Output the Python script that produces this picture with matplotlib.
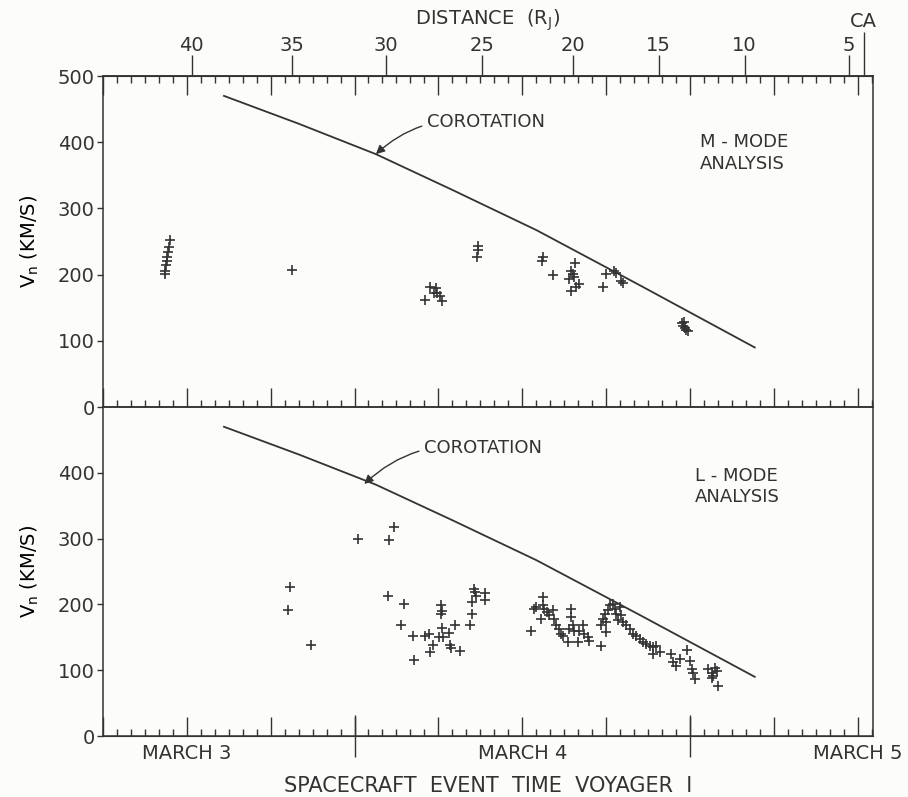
import numpy as np
import matplotlib.pyplot as plt
from matplotlib.ticker import MultipleLocator

# time axis: hours after 1979 March 3 00:00 (spacecraft event time)
corot_t = [14.66, 20.0, 25.53, 31.0, 37.04, 44.5, 52.64]
corot_v = [470, 428, 382, 328, 267, 183, 90]

# M-mode analysis
m_t = [10.79, 10.7, 10.65, 10.59, 10.55, 10.5, 10.41, 10.43, 19.52,
       29.4, 29.8, 29.67, 29.08, 30.15, 30.28, 29.92,
       32.86, 32.86, 32.79,
       37.46, 37.41, 38.17, 39.8, 39.5, 39.6, 39.37, 39.73, 40.1, 39.86, 39.5,
       42.0, 41.77, 42.6, 42.73, 43.09, 43.2,
       47.4, 47.63, 47.88, 47.52, 47.55, 47.75]
m_v = [252, 242, 234, 227, 221, 215, 205, 201, 207,
       181, 180, 173, 162, 168, 160, 173,
       244, 237, 226,
       226, 221, 199, 218, 206, 201, 193, 196, 186, 181, 176,
       201, 182, 206, 203, 191, 187,
       127, 120, 115, 122, 128, 117]

# L-mode analysis
l_t = [19.38, 19.26, 20.86, 24.24, 26.44, 26.85, 26.39, 27.57, 27.33, 28.19,
       28.29, 29.08, 29.32, 29.6, 29.41, 30.16, 30.23, 30.2, 30.27, 30.08,
       30.34, 30.75, 31.16, 30.8, 30.87, 31.54, 32.28, 32.43, 32.43, 32.62,
       32.71, 33.34, 33.34, 32.55,
       36.62, 36.86, 36.98, 37.51, 37.46, 37.58, 37.34, 37.81, 37.94, 38.17,
       38.3, 38.42, 38.66, 38.78, 38.89, 39.25, 39.5, 39.5, 39.61, 39.37,
       39.73, 39.97, 40.09, 40.33, 40.45, 40.69, 40.81, 41.65, 41.65, 41.77,
       41.89, 42.01, 42.13, 42.25, 42.48, 42.61, 42.73, 42.97, 43.09, 42.84,
       43.2, 43.45, 43.68, 43.92, 44.16, 44.4, 44.64, 44.88, 45.12, 45.36,
       45.6, 45.84, 45.36, 46.68, 46.79, 47.04, 47.28, 47.76, 47.99, 48.12,
       48.23, 48.35, 49.31, 49.55, 49.79, 49.91, 49.55, 50.03, 49.67, 42.01]
l_v = [226.6, 191.9, 138.9, 299.7, 298.2, 317, 212.4, 201, 168, 151.6,
       115.9, 151.6, 155, 138.3, 127, 199.5, 189.4, 185.8, 163.9, 151,
       151, 156.7, 168.9, 138.3, 133.7, 129.7, 168.9, 184.8, 203.7, 219,
       212.9, 217.9, 206.3, 223,
       160.3, 193.4, 196, 211.3, 198.6, 193.4, 178.1, 188.4, 183.3, 191,
       178.1, 168, 162.8, 155.1, 152.6, 142.4, 193.4, 180.7, 168, 162.8,
       160.3, 142.4, 160.3, 168, 155.1, 150.1, 145, 137.4, 168, 178.1,
       185.8, 157.7, 191, 198.6, 201.1, 193.4, 185.8, 196, 183.3, 175.7,
       173, 168, 162.8, 155.1, 152.7, 147.5, 142.4, 139.8, 137.4, 134.8,
       137.4, 127.1, 124.5, 124.5, 111.8, 106.7, 116.8, 131.2, 114.4, 101.5,
       96.5, 87.3, 101.5, 96.5, 104.1, 99.1, 88.8, 76.1, 91.4, 173]

dist_t = [12.36, 19.52, 26.24, 33.11, 39.62, 45.77, 51.92, 59.36]
dist_lab = ['40', '35', '30', '25', '20', '15', '10', '5']
ca_t = 60.43
day_t = [12, 36, 60]
day_lab = ['MARCH 3', 'MARCH 4', 'MARCH 5']

ink = '#333333'
plt.rcParams['font.family'] = ['DejaVu Sans']
plt.rcParams['text.color'] = ink
plt.rcParams['axes.edgecolor'] = ink
plt.rcParams['xtick.color'] = ink
plt.rcParams['ytick.color'] = ink

fig = plt.figure(figsize=(9.08, 7.97), dpi=100, facecolor='#fcfcfa')
ax1 = fig.add_axes([0.1134, 0.4893, 0.848, 0.4153])
ax2 = fig.add_axes([0.1134, 0.0765, 0.848, 0.4128])

for ax in (ax1, ax2):
    ax.set_facecolor('none')
    ax.set_xlim(6, 61.1)
    ax.set_ylim(0, 500)
    ax.xaxis.set_major_locator(MultipleLocator(6))
    ax.xaxis.set_minor_locator(MultipleLocator(1))
    ax.tick_params(axis='x', which='major', direction='in', length=14, width=1)
    ax.tick_params(axis='x', which='minor', direction='in', length=5, width=1)
    ax.tick_params(axis='x', labelbottom=False, labeltop=False)
    ax.tick_params(axis='y', direction='out', length=4, width=1, labelsize=14, pad=2)
    ax.plot(corot_t, corot_v, color=ink, lw=1.3)
    ax.set_ylabel('V$_\\mathregular{n}$ (KM/S)', fontsize=14, labelpad=12)
    for s in ax.spines.values():
        s.set_linewidth(1.1)

ax1.tick_params(axis='x', which='both', top=True, bottom=True)
ax2.tick_params(axis='x', which='both', top=False, bottom=True)
ax1.set_yticks([0, 100, 200, 300, 400, 500])
ax2.set_yticks([0, 100, 200, 300, 400])

ax1.plot(m_t, m_v, '+', color=ink, ms=7, mew=1.2)
ax2.plot(l_t, l_v, '+', color=ink, ms=7, mew=1.2)

# distance scale on top
sec = ax1.secondary_xaxis('top')
sec.set_xticks(dist_t, dist_lab)
sec.tick_params(direction='out', length=15, width=1, labelsize=14, pad=0.5)
sec.spines['top'].set_linewidth(1.1)
sec2 = ax1.secondary_xaxis('top')
sec2.set_xticks([ca_t], ['CA'])
sec2.tick_params(direction='out', length=32, width=1, labelsize=14, pad=0.5)
ax1.text(0.5, 1.17, 'DISTANCE  (R$_\\mathregular{J}$)', transform=ax1.transAxes,
         ha='center', va='center', fontsize=14)

# day boundaries and labels
sec3 = ax2.secondary_xaxis('bottom')
sec3.set_xticks([24, 48], ['', ''])
sec3.tick_params(direction='inout', length=30, width=1)
for t, lab in zip(day_t, day_lab):
    ax2.text(t, -0.025, lab, transform=ax2.get_xaxis_transform(),
             ha='center', va='top', fontsize=14)
ax2.text(0.5, -0.152, 'SPACECRAFT  EVENT  TIME  VOYAGER  I', transform=ax2.transAxes,
         ha='center', va='center', fontsize=15)

# annotations
ax1.annotate('COROTATION', xy=(25.53, 382), xytext=(29.2, 430), fontsize=13,
             va='center', ha='left',
             arrowprops=dict(arrowstyle='-|>', color=ink, lw=1, shrinkA=2, shrinkB=0,
                             connectionstyle='arc3,rad=0.25'))
ax2.annotate('COROTATION', xy=(24.7, 383), xytext=(29.0, 438), fontsize=13,
             va='center', ha='left',
             arrowprops=dict(arrowstyle='-|>', color=ink, lw=1, shrinkA=2, shrinkB=0,
                             connectionstyle='arc3,rad=0.25'))
ax1.text(48.7, 384, 'M - MODE\nANALYSIS', fontsize=13, ha='left', va='center',
         linespacing=1.25)
ax2.text(48.35, 379, 'L - MODE\nANALYSIS', fontsize=13, ha='left', va='center',
         linespacing=1.25)

fig.savefig('out.png', dpi=100, facecolor=fig.get_facecolor())
